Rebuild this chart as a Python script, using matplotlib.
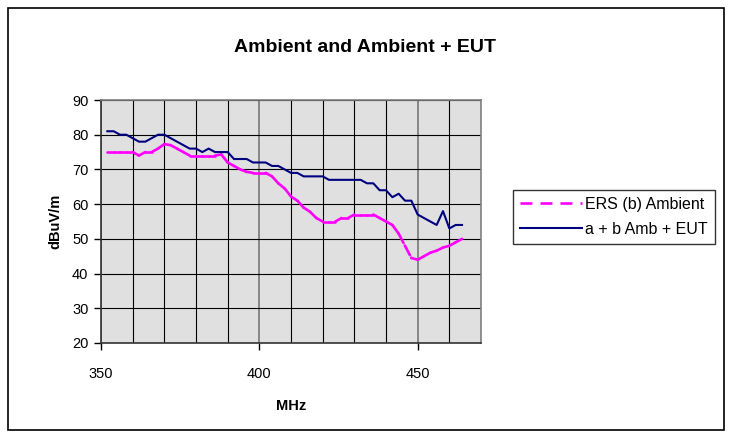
import matplotlib

matplotlib.use("Agg")
import matplotlib.pyplot as plt
import numpy as np
from matplotlib.collections import LineCollection
from matplotlib.lines import Line2D
from matplotlib.patches import Rectangle
from matplotlib.ticker import MultipleLocator

plt.rcParams["font.family"] = ["Liberation Sans", "DejaVu Sans"]
plt.rcParams["lines.scale_dashes"] = False

# frequencies (MHz), 2 MHz steps
freq = np.arange(352, 465, 2)

ambient = [75, 75, 75, 75, 75, 74, 75, 75, 76, 77.3,
           77, 76, 75, 74, 74, 74, 74, 74, 74.3, 72,
           71, 70, 69.3, 69, 69, 69, 68, 66, 64.5, 62.2,
           61, 59, 57.8, 56, 55, 55, 55, 56, 56, 57,
           57, 57, 57, 56, 55, 54, 51.5, 48, 44.5, 44,
           45, 46, 46.6, 47.5, 48, 49, 50]

amb_eut = [81, 81, 80, 80, 79, 78, 78, 79, 80, 80,
           79, 78, 77, 76, 76, 75, 76, 75, 75, 75,
           73, 73, 73, 72, 72, 72, 71, 71, 70, 69,
           69, 68, 68, 68, 68, 67, 67, 67, 67, 67,
           67, 66, 66, 64, 64, 62, 63, 61, 61, 57,
           56, 55, 54, 58, 53, 54, 54]

title = "Ambient and Ambient + EUT"
labels = ["ERS (b) Ambient", "a + b Amb + EUT"]

pink = "#FF00FF"
navy = "#000080"

fig = plt.figure(figsize=(7.3, 4.37), dpi=100)
fig.patches.append(Rectangle((8 / 730, 7 / 437), 716 / 730, 422 / 437,
                             transform=fig.transFigure, fill=False,
                             edgecolor="black", linewidth=1.2))

ax = fig.add_axes([101 / 730, 94 / 437, 380 / 730, 243 / 437])
ax.set_facecolor("#E0E0E0")

# Excel style: dashes restart on every segment
pts = np.column_stack([freq, ambient])
segs = np.stack([pts[:-1], pts[1:]], axis=1)
lc = LineCollection(segs, colors=pink, linewidths=1.9,
                    linestyles=[(0, (7.6, 2.2))], capstyle="round")
ax.add_collection(lc)

ax.plot(freq, amb_eut, color=navy, linewidth=1.5)

ax.set_xlim(350, 470)
ax.set_ylim(20, 90)
ax.xaxis.set_major_locator(MultipleLocator(50))
ax.xaxis.set_minor_locator(MultipleLocator(10))
ax.yaxis.set_major_locator(MultipleLocator(10))

ax.grid(True, which="minor", axis="x", color="black", linewidth=0.8)
ax.grid(True, which="major", axis="x", color="#777777", linewidth=1.2)
ax.grid(True, which="major", axis="y", color="black", linewidth=0.8)
ax.set_axisbelow(True)

ax.tick_params(axis="x", which="major", direction="out", length=5, width=1,
               pad=12, labelsize=10.5)
ax.tick_params(axis="x", which="minor", length=0)
ax.tick_params(axis="y", direction="out", length=5, width=1, pad=4,
               labelsize=10.5)

for side in ["left", "bottom"]:
    ax.spines[side].set_color("#333333")
    ax.spines[side].set_linewidth(1.2)
for side in ["top", "right"]:
    ax.spines[side].set_color("#808080")
    ax.spines[side].set_linewidth(1.2)

ax.set_xlabel("MHz", fontsize=10.5, fontweight="bold", labelpad=13)
ax.set_ylabel("dBuV/m", fontsize=10.5, fontweight="bold", labelpad=7)

fig.text(0.5, 1 - 47 / 437, title, ha="center", va="center",
         fontsize=14, fontweight="bold")

handles = [
    Line2D([], [], color=pink, linewidth=1.9, dashes=(8.6, 5.8)),
    Line2D([], [], color=navy, linewidth=1.5),
]
leg = fig.legend(handles, labels, loc="center left",
                 bbox_to_anchor=(513 / 730, 1 - 217 / 437),
                 fontsize=11.5, frameon=True, fancybox=False,
                 handlelength=3.9, handletextpad=0.15, borderpad=0.45,
                 borderaxespad=0, labelspacing=0.6, handleheight=0.9)
leg.get_frame().set_edgecolor("black")
leg.get_frame().set_linewidth(1.0)

fig.savefig("out.png", dpi=100)
